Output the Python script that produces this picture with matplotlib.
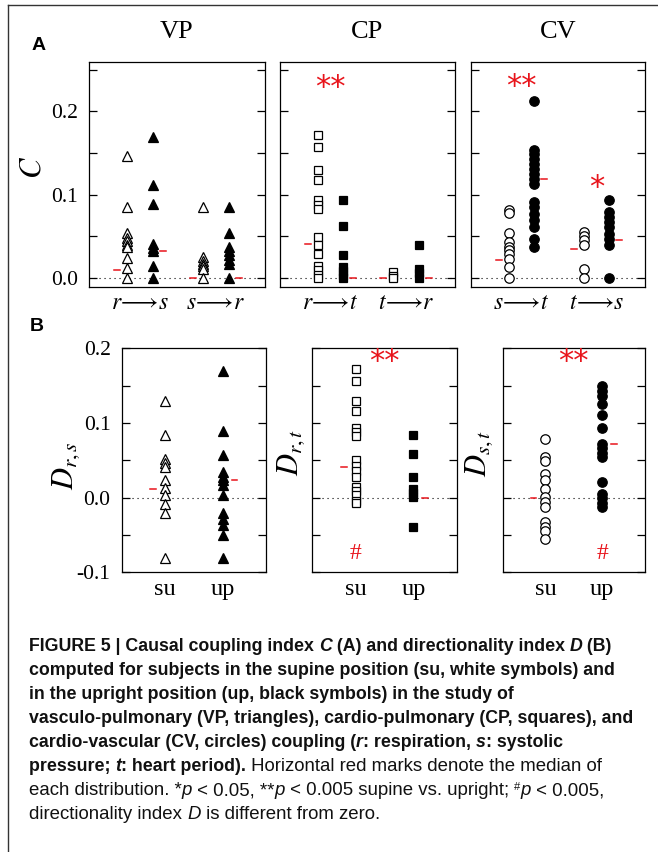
import matplotlib
matplotlib.use('Agg')
import matplotlib.pyplot as plt
from matplotlib import font_manager as fm
import numpy as np

plt.rcParams['mathtext.fontset'] = 'stix'
plt.rcParams['font.family'] = ['Liberation Serif', 'DejaVu Serif']

W, H = 658, 852
RED = '#e8141b'

# ---- panel A: causal coupling index C ----
vp_rs_su = [0.146, 0.085, 0.054, 0.048, 0.044, 0.040, 0.037, 0.024, 0.012, 0.0]
vp_rs_up = [0.169, 0.111, 0.089, 0.041, 0.036, 0.032, 0.014, 0.0]
vp_sr_su = [0.085, 0.025, 0.020, 0.017, 0.014, 0.011, 0.0]
vp_sr_up = [0.085, 0.054, 0.037, 0.032, 0.027, 0.022, 0.017, 0.0]
cp_rt_su = [0.171, 0.157, 0.130, 0.117, 0.093, 0.087, 0.083, 0.049, 0.040,
            0.029, 0.014, 0.009, 0.004, 0.0]
cp_rt_up = [0.093, 0.062, 0.028, 0.013, 0.008, 0.003, 0.0]
cp_tr_su = [0.007, 0.002, 0.0]
cp_tr_up = [0.040, 0.011, 0.006, 0.0]
cv_st_su = [0.082, 0.078, 0.054, 0.043, 0.037, 0.033, 0.029, 0.023, 0.013, 0.0]
cv_st_up = [0.212, 0.153, 0.149, 0.143, 0.137, 0.131, 0.125, 0.119, 0.113,
            0.091, 0.085, 0.077, 0.069, 0.061, 0.047, 0.037]
cv_ts_su = [0.055, 0.050, 0.045, 0.040, 0.011, 0.0]
cv_ts_up = [0.094, 0.079, 0.073, 0.067, 0.061, 0.053, 0.047, 0.040, 0.0]

med_vp = [0.010, 0.032, 0.0, 0.0]
med_cp = [0.041, 0.0, 0.0, 0.0]
med_cv = [0.022, 0.119, 0.035, 0.046]

A_titles = ['VP', 'CP', 'CV']
A_xlabels = [[r'$r\!\longrightarrow\!s$', r'$s\!\longrightarrow\!r$'],
             [r'$r\!\longrightarrow\!t$', r'$t\!\longrightarrow\!r$'],
             [r'$s\!\longrightarrow\!t$', r'$t\!\longrightarrow\!s$']]
A_stars = [[], [('**', 0.229)], [('**', 0.230), ('*', 0.109)]]

# ---- panel B: directionality index D ----
drs_su = [0.129, 0.084, 0.052, 0.047, 0.041, 0.024, 0.013, 0.003, -0.008, -0.020, -0.081]
drs_up = [0.170, 0.089, 0.057, 0.034, 0.028, 0.023, 0.017, 0.003, -0.021, -0.028,
          -0.036, -0.050, -0.081]
drt_su = [0.172, 0.156, 0.130, 0.116, 0.093, 0.088, 0.082, 0.050, 0.042, 0.036,
          0.028, 0.014, 0.009, 0.003, -0.004, -0.007]
drt_up = [0.084, 0.059, 0.028, 0.012, 0.006, 0.001, -0.039]
dst_su = [0.079, 0.054, 0.049, 0.032, 0.024, 0.012, 0.001, -0.006, -0.012,
          -0.033, -0.039, -0.045, -0.055]
dst_up = [0.150, 0.143, 0.136, 0.126, 0.111, 0.093, 0.072, 0.067, 0.060, 0.054,
          0.021, 0.005, -0.001, -0.007, -0.012]
med_B = [[0.011, 0.023], [0.041, 0.0], [0.0, 0.072]]
B_ylabels = [r'$D_{r,s}$', r'$D_{r,t}$', r'$D_{s,t}$']
B_hash = [None, 0, 1]   # which column carries the '#'

markers = ['^', 's', 'o']
msizes = [7.0, 5.8, 6.8]


def px_ax(l, t, r, b):
    return fig.add_axes([l / W, 1 - b / H, (r - l) / W, (b - t) / H])


def style_ax(ax, yt, ylim, labels):
    ax.set_xlim(0, 1)
    ax.set_ylim(*ylim)
    ax.set_xticks([])
    ax.set_yticks(yt)
    ax.tick_params(axis='y', direction='in', length=6, width=0.9, left=True,
                   right=True, labelsize=15.5, pad=8)
    if labels is None:
        ax.set_yticklabels([])
    else:
        ax.set_yticklabels(labels)
    for s in ax.spines.values():
        s.set_linewidth(0.9)
    ax.axhline(0, color='k', ls=(0, (1, 3.5)), lw=0.8, zorder=1)


def column(ax, x, vals, mk, ms, filled):
    ax.plot([x] * len(vals), vals, ls='none', marker=mk, ms=ms,
            mfc='k' if filled else 'white', mec='k', mew=0.9, zorder=3)


fig = plt.figure(figsize=(W / 100, H / 100), dpi=100)

# frame lines
fig.add_artist(plt.Line2D([8 / W, 8 / W], [0, 1 - 5 / H], color='#333333', lw=1))
fig.add_artist(plt.Line2D([8 / W, 1], [1 - 5 / H, 1 - 5 / H], color='#333333', lw=1))

A_data = [[vp_rs_su, vp_rs_up, vp_sr_su, vp_sr_up],
          [cp_rt_su, cp_rt_up, cp_tr_su, cp_tr_up],
          [cv_st_su, cv_st_up, cv_ts_su, cv_ts_up]]
A_meds = [med_vp, med_cp, med_cv]
A_lr = [(89, 265), (280, 455), (471, 645)]
xa = [0.217, 0.361, 0.647, 0.794]
for i in range(3):
    ax = px_ax(A_lr[i][0], 62, A_lr[i][1], 287)
    style_ax(ax, np.arange(0, 0.26, 0.05), (-0.011, 0.259),
             ['0.0', '', '0.1', '', '0.2', ''] if i == 0 else None)
    for j in range(4):
        column(ax, xa[j], A_data[i][j], markers[i], msizes[i], j % 2 == 1)
        off = -0.057 if j % 2 == 0 else 0.057
        ax.plot([xa[j] + off - 0.017, xa[j] + off + 0.017], [A_meds[i][j]] * 2,
                color=RED, lw=1.1, zorder=4)
    for k in range(2):
        ax.text((xa[2 * k] + xa[2 * k + 1]) / 2, -0.018, A_xlabels[i][k],
                transform=ax.transData, ha='center', va='top', fontsize=17,
                clip_on=False)
    for k, st in enumerate(A_stars[i]):
        if i == 2 and k == 1:
            xs = (xa[2] + xa[3]) / 2
        else:
            xs = (xa[0] + xa[1]) / 2
        ax.text(xs, st[1], st[0], color=RED, ha='center', va='center',
                fontsize=22, fontfamily='DejaVu Sans')
    fig.text((A_lr[i][0] + A_lr[i][1]) / 2 / W, 1 - 32 / H, A_titles[i],
             ha='center', va='center', fontsize=19)

fig.text(33 / W, 1 - 167 / H, r'$C$', rotation=90, ha='center', va='center',
         fontsize=22)

B_data = [[drs_su, drs_up], [drt_su, drt_up], [dst_su, dst_up]]
B_lr = [(121.7, 265.7), (312.3, 456.7), (502.7, 645)]
B_lab = [(66, 466), (291, 452), (479, 453)]
xb = [0.30, 0.70]
for i in range(3):
    ax = px_ax(B_lr[i][0], 348.3, B_lr[i][1], 572.3)
    style_ax(ax, np.arange(-0.1, 0.21, 0.05), (-0.1, 0.2),
             ['-0.1', '', '0.0', '', '0.1', '', '0.2'] if i == 0 else None)
    for j in range(2):
        column(ax, xb[j], B_data[i][j], markers[i], msizes[i], j == 1)
        off = -0.083 if j == 0 else 0.083
        ax.plot([xb[j] + off - 0.02, xb[j] + off + 0.02], [med_B[i][j]] * 2,
                color=RED, lw=1.1, zorder=4)
    ax.set_xticks(xb)
    ax.set_xticklabels(['su', 'up'], fontsize=17.5)
    ax.tick_params(axis='x', length=0, pad=5)
    if i > 0:
        ax.text(0.5, 0.182, '**', color=RED, ha='center', va='center',
                fontsize=22, fontfamily='DejaVu Sans')
        ax.text(xb[B_hash[i]], -0.075, '#', color=RED, ha='center',
                va='center', fontsize=17)
    fig.text(B_lab[i][0] / W, 1 - B_lab[i][1] / H, B_ylabels[i], rotation=90,
             ha='center', va='center', fontsize=22)

fig.text(39 / W, 1 - 45 / H, 'A', fontfamily='Liberation Sans',
         fontweight='bold', fontsize=14, ha='center', va='center')
fig.text(37 / W, 1 - 326 / H, 'B', fontfamily='Liberation Sans',
         fontweight='bold', fontsize=14, ha='center', va='center')

# ---- caption ----
names = {f.name for f in fm.fontManager.ttflist}
narrow = 'Liberation Sans Narrow' in names
cap_font = 'Liberation Sans Narrow' if narrow else 'Liberation Sans'
size_b = 15.4 if narrow else 12.8
size_r = 16.2 if narrow else 13.4

cap_lines = [
    [('FIGURE 5 | Causal coupling index ', 'b'), ('C', 'bi'),
     (' (A) and directionality index ', 'b'), ('D', 'bi'), (' (B)', 'b')],
    [('computed for subjects in the supine position (su, white symbols) and', 'b')],
    [('in the upright position (up, black symbols) in the study of', 'b')],
    [('vasculo-pulmonary (VP, triangles), cardio-pulmonary (CP, squares), and', 'b')],
    [('cardio-vascular (CV, circles) coupling (', 'b'), ('r', 'bi'),
     (': respiration, ', 'b'), ('s', 'bi'), (': systolic', 'b')],
    [('pressure; ', 'b'), ('t', 'bi'), (': heart period).', 'b'),
     (' Horizontal red marks denote the median of', 'r')],
    [('each distribution. *', 'r'), ('p', 'i'), (' < 0.05, **', 'r'), ('p', 'i'),
     (' < 0.005 supine vs. upright; ', 'r'), ('#', 'sup'), ('p', 'i'),
     (' < 0.005,', 'r')],
    [('directionality index ', 'r'), ('D', 'i'), (' is different from zero.', 'r')],
]

renderer = fig.canvas.get_renderer()


def advance(txt, kw):
    t1 = fig.text(0, 0, txt + 'I', **kw)
    t2 = fig.text(0, 0, 'I', **kw)
    w = t1.get_window_extent(renderer).width - t2.get_window_extent(renderer).width
    t1.remove()
    t2.remove()
    return w


for n, line in enumerate(cap_lines):
    x = 29.0
    yb = 651 + 24 * n
    for txt, sty in line:
        bold = 'b' in sty
        kw = dict(fontfamily=cap_font, fontsize=size_b if bold else size_r,
                  color='#111111',
                  fontweight='bold' if bold else 'normal',
                  fontstyle='italic' if 'i' in sty else 'normal')
        dy = 0
        if sty == 'sup':
            kw['fontsize'] = size_r * 0.6
            dy = -5
        fig.text(x / W, 1 - (yb + dy) / H, txt, va='baseline', ha='left', **kw)
        x += advance(txt, kw)

fig.savefig('out.png', dpi=100)
